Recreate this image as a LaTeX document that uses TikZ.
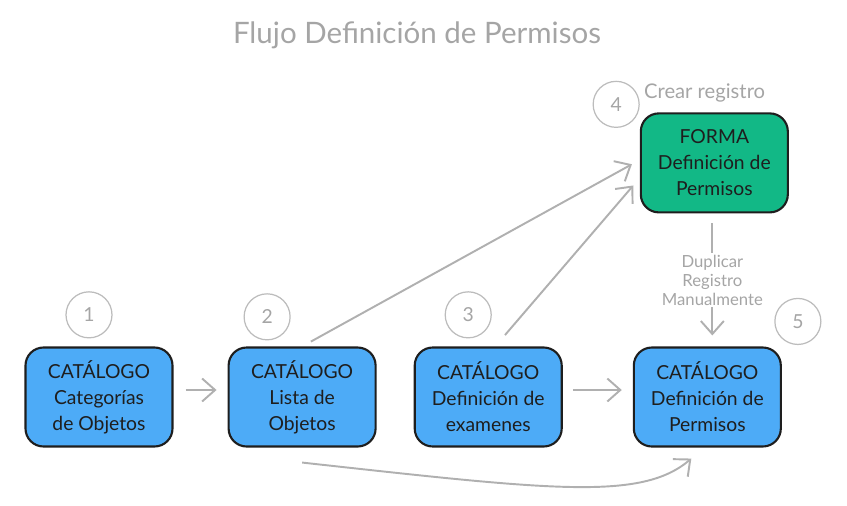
\documentclass[tikz,border=0pt]{standalone}
\usepackage{fontspec}
\setmainfont{Lato}
\usepackage{xcolor}
\usetikzlibrary{arrows.meta,positioning}
\definecolor{catBlue}{HTML}{4DABF7}
\definecolor{formGreen}{HTML}{12B886}
\definecolor{inkBlack}{HTML}{1E1E1E}
\definecolor{noteGray}{HTML}{A5A5A5}
\definecolor{lineGray}{HTML}{B0B0B0}

\begin{document}
\begin{tikzpicture}[
    node distance=0.3cm and 0.3cm,
    box/.style={draw=inkBlack,line width=1.2pt,rounded corners=0.36cm,
      minimum width=2.94cm,minimum height=1.98cm,align=center,
      font=\fontsize{11}{14.8}\selectfont,text=inkBlack},
    stepnum/.style={circle,draw=lineGray!85,line width=0.7pt,minimum size=0.92cm,
      inner sep=0pt,font=\fontsize{11}{13}\selectfont,text=noteGray},
    flow/.style={draw=lineGray,line width=1.1pt,
      -{Straight Barb[length=2.6mm,width=4.6mm]}}
  ]
  \useasboundingbox (0,0) rectangle (16.94,-10.1);

  \node[text=noteGray,font=\fontsize{16.8}{19}\selectfont] (title) at (8.34,-0.7)
    {Flujo Definición de Permisos};

  \node[box,fill=catBlue] (cat1) at (1.98,-7.94)
    {CATÁLOGO\\Categorías\\de Objetos};
  \node[box,fill=catBlue,right=1.08cm of cat1] (cat2)
    {CATÁLOGO\\Lista de\\Objetos};
  \node[box,fill=catBlue,right=0.74cm of cat2] (cat3)
    {CATÁLOGO\\Definición de\\examenes};
  \node[box,fill=catBlue,right=1.4cm of cat3] (cat5)
    {CATÁLOGO\\Definición de\\Permisos};
  \node[box,fill=formGreen,above=2.66cm of cat5,xshift=0.14cm] (form)
    {FORMA\\Definición de\\Permisos};

  \node[stepnum,above=0.16cm of cat1,xshift=-0.2cm] (n1) {1};
  \node[stepnum,above=0.12cm of cat2,xshift=-0.7cm] (n2) {2};
  \node[stepnum,above=0.16cm of cat3,xshift=-0.4cm] (n3) {3};
  \node[stepnum,left=0cm of form.north west,yshift=0.16cm] (n4) {4};
  \node[stepnum,at=(cat5.north east),xshift=0.32cm,yshift=0.5cm] (n5) {5};

  \node[above right=0.2cm and 0.08cm of form.north west,inner sep=0pt,
    text=noteGray,font=\fontsize{11.5}{13}\selectfont] (crear) {Crear registro};

  \draw[flow,shorten <=0.24cm,shorten >=0.22cm]
    ([yshift=0.14cm]cat1.east) -- ([yshift=0.14cm]cat2.west);
  \draw[flow,shorten <=0.2cm,shorten >=0.22cm]
    ([yshift=0.14cm]cat3.east) -- ([yshift=0.14cm]cat5.west);
  \draw[flow,shorten <=0.2cm,shorten >=0.18cm]
    (cat2.north) -- ([yshift=0.06cm]form.west);
  \draw[flow,shorten <=0.3cm,shorten >=0.2cm]
    ([xshift=0.14cm]cat3.north) -- ([yshift=-0.3cm]form.west);
  \draw[flow,shorten <=0.2cm,shorten >=0.22cm]
    ([xshift=-0.04cm]form.south) -- node[fill=white,inner sep=1pt,align=center,
      text=noteGray,font=\fontsize{9.5}{10.8}\selectfont] (dup)
      {Duplicar\\Registro\\Manualmente}
    ([xshift=-0.04cm]form.south |- cat5.north);
  \draw[flow]
    ([yshift=-0.3cm]cat2.south) .. controls +(5,-0.55) and +(-1,-0.85) ..
    ([xshift=-0.32cm,yshift=-0.22cm]cat5.south);
\end{tikzpicture}
\end{document}
